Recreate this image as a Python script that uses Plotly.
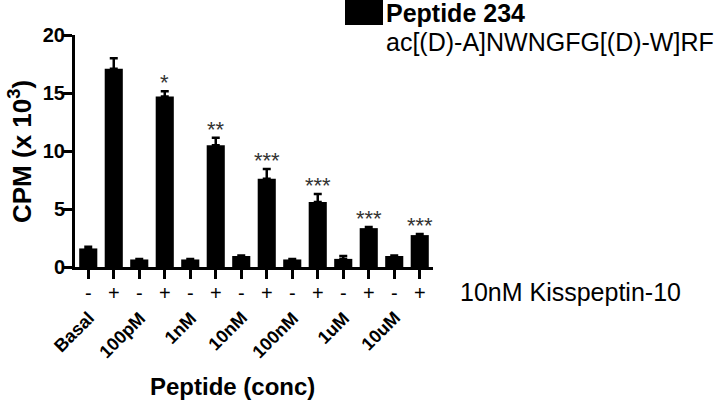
import plotly.graph_objects as go

# ---- data ----
conc_labels = ["Basal", "100pM", "1nM", "10nM", "100nM", "1uM", "10uM"]
kiss_labels = ["-", "+", "-", "+", "-", "+", "-", "+", "-", "+", "-", "+", "-", "+"]
cpm_values = [1.6, 17.1, 0.65, 14.7, 0.65, 10.5, 0.95, 7.6, 0.65, 5.6, 0.7, 3.35, 0.95, 2.75]
cpm_errors = [0.15, 0.9, 0.05, 0.45, 0.05, 0.65, 0.05, 0.85, 0.05, 0.7, 0.25, 0.1, 0.05, 0.1]
signif = ["", "", "", "*", "", "**", "", "***", "", "***", "", "***", "", "***"]
yticks = [0, 5, 10, 15, 20]

FONT = "Liberation Sans, Arial, sans-serif"
x_pos = list(range(len(cpm_values)))

W, H = 720, 401
L, R, T = 75, 287, 35
B = 134
PW = W - L - R
PH = H - T - B
PBOT = T + PH


def px(x):
    return (x - L) / PW


def py(y):
    return (PBOT - y) / PH


fig = go.Figure()
fig.add_trace(go.Bar(
    x=x_pos, y=cpm_values,
    marker=dict(color="black", line=dict(width=0)),
    error_y=dict(type="data", array=cpm_errors, arrayminus=[0] * len(cpm_errors),
                 symmetric=False, color="black", thickness=2.5, width=4),
    showlegend=False,
))

ann = []
# significance stars
for xi, v, e, s in zip(x_pos, cpm_values, cpm_errors, signif):
    if s:
        ann.append(dict(x=xi, y=v + e, xref="x", yref="y", text=s, showarrow=False,
                        yanchor="bottom", yshift=-6,
                        font=dict(family=FONT, size=22, color="#333333")))
# concentration labels (rotated)
for i, lab in enumerate(conc_labels):
    ann.append(dict(x=2 * i + 0.5, y=py(305), xref="x", yref="paper", text="<b>" + lab + "</b>",
                    textangle=-45, showarrow=False, xanchor="right", yanchor="top", xshift=0,
                    font=dict(family=FONT, size=18, color="black")))
# axis titles
ann.append(dict(x=px(20), y=py(152), xref="paper", yref="paper",
                text="<b>CPM (x 10<sup>3</sup>)</b>",
                textangle=-90, showarrow=False, xanchor="center", yanchor="middle",
                font=dict(family=FONT, size=26, color="black")))
ann.append(dict(x=px(232), y=py(386), xref="paper", yref="paper", text="<b>Peptide (conc)</b>",
                showarrow=False, xanchor="center", yanchor="middle",
                font=dict(family=FONT, size=24, color="black")))
# kisspeptin label
ann.append(dict(x=px(458), y=py(292), xref="paper", yref="paper", text="10nM Kisspeptin-10",
                showarrow=False, xanchor="left", yanchor="middle",
                font=dict(family=FONT, size=25, color="black")))
# legend text
ann.append(dict(x=px(384), y=py(13), xref="paper", yref="paper", text="<b>Peptide 234</b>",
                showarrow=False, xanchor="left", yanchor="middle",
                font=dict(family=FONT, size=25, color="black")))
ann.append(dict(x=px(384), y=py(42), xref="paper", yref="paper", text="ac[(D)-A]NWNGFG[(D)-W]RF",
                showarrow=False, xanchor="left", yanchor="middle",
                font=dict(family=FONT, size=25, color="black")))

fig.update_layout(
    width=W, height=H,
    margin=dict(l=L, r=R, t=T, b=B),
    paper_bgcolor="white", plot_bgcolor="white",
    bargap=0.29,
    annotations=ann,
    shapes=[dict(type="rect", xref="paper", yref="paper",
                 x0=px(345), x1=px(383), y0=py(25), y1=py(0),
                 fillcolor="black", line=dict(width=0))],
    xaxis=dict(range=[-0.52, 13.52], tickmode="array", tickvals=x_pos, ticktext=kiss_labels,
               showline=True, linecolor="black", linewidth=3, ticks="outside", ticklen=9,
               tickwidth=2.5, tickcolor="black", showgrid=False, zeroline=False,
               ticklabelstandoff=-3,
               tickfont=dict(family=FONT, size=20, color="black")),
    yaxis=dict(range=[0, 20], tickmode="array", tickvals=yticks,
               showline=True, linecolor="black", linewidth=3, ticks="outside", ticklen=10,
               tickwidth=2.5, tickcolor="black", showgrid=False, zeroline=False,
               ticklabelstandoff=-7,
               tickfont=dict(family=FONT, size=20, color="black", weight="bold")),
)

fig.write_html("out.html", config={"displayModeBar": False},
               post_script="document.body.style.margin='0';document.body.style.overflow='hidden';")
